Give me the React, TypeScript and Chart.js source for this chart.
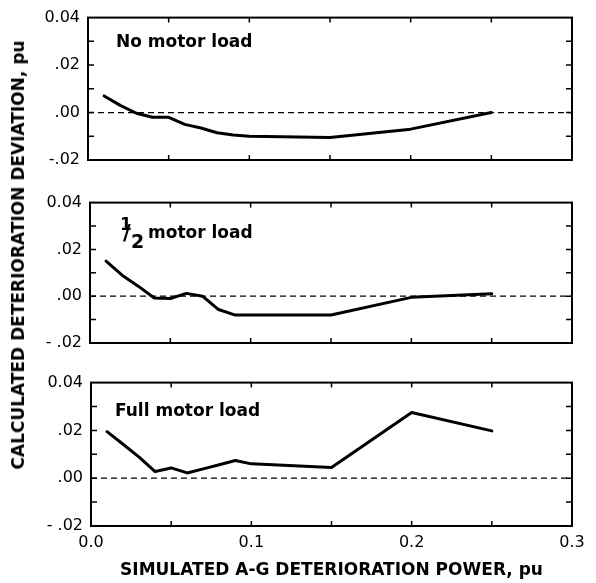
import React, { useEffect, useRef } from 'react';
import { Chart, registerables } from 'chart.js';

Chart.register(...registerables);

// ---------- data ----------
const xValues = [0.01, 0.02, 0.03, 0.04, 0.05, 0.06, 0.07, 0.08, 0.09, 0.1, 0.15, 0.2, 0.25];
const noMotorLoad = [0.007, 0.003, -0.0003, -0.002, -0.002, -0.005, -0.0065, -0.0085, -0.0095, -0.01, -0.0105, -0.007, 0.0];
const halfMotorLoad = [0.015, 0.009, 0.0043, -0.0008, -0.001, 0.0012, 0.0, -0.0057, -0.008, -0.008, -0.008, -0.0005, 0.001];
const fullMotorLoad = [0.0195, 0.0142, 0.0088, 0.0028, 0.0043, 0.0022, 0.0039, 0.0056, 0.0074, 0.006, 0.0045, 0.0275, 0.0198];
const zeroLineX = [0, 0.3];
const zeroLineY = [0, 0];

const xTickLabels = ['0.0', '0.1', '0.2', '0.3'];
const yTickLabelsTop = ['-.02', '.00', '.02', '0.04'];
const yTickLabelsLower = ['- .02', '.00', '.02', '0.04'];

const xAxisTitle = 'SIMULATED A-G DETERIORATION POWER, pu';
const yAxisTitle = 'CALCULATED DETERIORATION DEVIATION, pu';
const panelTexts = ['No motor load', 'motor load', 'Full motor load'];

const FONT = '"DejaVu Sans", "Liberation Sans", sans-serif';

type PanelSpec = {
  values: number[];
  text: string;
  fraction: boolean;
  yLabels: string[];
  canvasTop: number;
  canvasHeight: number;
  padTop: number;
  padBottom: number;
  yAxisWidth: number;
  showX: boolean;
  labelDx: number;
  labelDy: number;
};

const panels: PanelSpec[] = [
  { values: noMotorLoad, text: panelTexts[0], fraction: false, yLabels: yTickLabelsTop, canvasTop: 0, canvasHeight: 185, padTop: 14, padBottom: 25, yAxisWidth: 58, showX: false, labelDx: 28, labelDy: 29 },
  { values: halfMotorLoad, text: panelTexts[1], fraction: true, yLabels: yTickLabelsLower, canvasTop: 185, canvasHeight: 180, padTop: 13, padBottom: 22, yAxisWidth: 60, showX: false, labelDx: 58, labelDy: 35 },
  { values: fullMotorLoad, text: panelTexts[2], fraction: false, yLabels: yTickLabelsLower, canvasTop: 365, canvasHeight: 218, padTop: 17, padBottom: 0, yAxisWidth: 61, showX: true, labelDx: 24, labelDy: 33 },
];

const frameTicksPlugin = {
  id: 'frameTicks',
  afterDraw(chart: any) {
    const { ctx, chartArea } = chart;
    const { left, right, top, bottom } = chartArea;
    const xs = chart.scales.x;
    const ys = chart.scales.y;
    ctx.save();
    ctx.strokeStyle = '#000';
    ctx.lineWidth = 1.5;
    ctx.beginPath();
    xs.ticks.forEach((t: any) => {
      const px = xs.getPixelForValue(t.value);
      if (px <= left + 1 || px >= right - 1) return;
      ctx.moveTo(px, top);
      ctx.lineTo(px, top + 5);
      ctx.moveTo(px, bottom);
      ctx.lineTo(px, bottom - 5);
    });
    ys.ticks.forEach((t: any) => {
      const py = ys.getPixelForValue(t.value);
      if (py <= top + 1 || py >= bottom - 1) return;
      ctx.moveTo(left, py);
      ctx.lineTo(left + 6, py);
      ctx.moveTo(right, py);
      ctx.lineTo(right - 6, py);
    });
    ctx.stroke();
    ctx.lineWidth = 2;
    ctx.strokeRect(left, top, right - left, bottom - top);
    ctx.restore();
  },
};

const panelLabelPlugin = {
  id: 'panelLabel',
  afterDraw(chart: any, _args: any, opts: any) {
    const { ctx, chartArea } = chart;
    const x = chartArea.left + opts.dx;
    const y = chartArea.top + opts.dy;
    ctx.save();
    ctx.fillStyle = '#000';
    ctx.textBaseline = 'alphabetic';
    ctx.textAlign = 'left';
    if (opts.fraction) {
      ctx.font = `bold 17px ${FONT}`;
      ctx.fillText('1', x - 28, y - 8);
      ctx.font = `bold 21px ${FONT}`;
      ctx.fillText('/', x - 25, y + 2);
      ctx.font = `bold 19px ${FONT}`;
      ctx.fillText('2', x - 17, y + 10);
    }
    ctx.font = `bold 17px ${FONT}`;
    ctx.fillText(opts.text, x, y);
    ctx.restore();
  },
};

function Panel({ spec }: { spec: PanelSpec }) {
  const ref = useRef<HTMLCanvasElement | null>(null);
  useEffect(() => {
    if (!ref.current) return;
    const lineData = xValues.map((x, i) => ({ x, y: spec.values[i] }));
    const zeroData = zeroLineX.map((x, i) => ({ x, y: zeroLineY[i] }));
    const chart = new Chart(ref.current, {
      type: 'line',
      data: {
        datasets: [
          {
            data: zeroData,
            borderColor: '#000',
            borderWidth: 1.2,
            borderDash: [6, 4],
            pointRadius: 0,
            tension: 0,
          },
          {
            data: lineData,
            borderColor: '#000',
            borderWidth: 3,
            pointRadius: 0,
            tension: 0,
            borderJoinStyle: 'round',
            borderCapStyle: 'round',
          },
        ],
      },
      options: {
        animation: false,
        responsive: false,
        maintainAspectRatio: false,
        events: [],
        layout: { padding: { left: 30, right: 24, top: spec.padTop, bottom: spec.padBottom } },
        plugins: {
          legend: { display: false },
          tooltip: { enabled: false },
          panelLabel: { text: spec.text, fraction: spec.fraction, dx: spec.labelDx, dy: spec.labelDy },
        } as any,
        scales: {
          x: {
            type: 'linear',
            min: 0,
            max: 0.3,
            display: spec.showX,
            grid: { display: false, drawTicks: false },
            border: { display: false },
            ticks: {
              stepSize: 0.05,
              autoSkip: false,
              maxRotation: 0,
              padding: 7,
              color: '#000',
              font: { family: FONT, size: 16 },
              callback: (v: any) => {
                const i = Math.round(Number(v) * 20);
                if (i % 2 !== 0) return '';
                return xTickLabels[i / 2] ?? '';
              },
            },
            title: {
              display: spec.showX,
              text: xAxisTitle,
              color: '#000',
              font: { family: FONT, size: 17, weight: 'bold' },
              padding: { top: 0, bottom: 2 },
            },
            afterFit: (s: any) => {
              if (spec.showX) s.height = 57;
            },
          },
          y: {
            type: 'linear',
            min: -0.02,
            max: 0.04,
            grid: { display: false, drawTicks: false },
            border: { display: false },
            ticks: {
              stepSize: 0.01,
              autoSkip: false,
              padding: 8,
              color: '#000',
              font: { family: FONT, size: 16 },
              callback: (v: any) => {
                const i = Math.round(Number(v) * 100);
                if (i % 2 !== 0) return '';
                return spec.yLabels[(i + 2) / 2] ?? '';
              },
            },
            afterFit: (s: any) => {
              s.width = spec.yAxisWidth;
            },
          },
        },
      },
      plugins: [frameTicksPlugin, panelLabelPlugin],
    } as any);
    return () => chart.destroy();
  }, [spec]);
  return (
    <canvas
      ref={ref}
      width={596}
      height={spec.canvasHeight}
      style={{ position: 'absolute', left: 0, top: spec.canvasTop, width: 596, height: spec.canvasHeight }}
    />
  );
}

export default function App() {
  return (
    <div style={{ position: 'absolute', left: 0, top: 0, width: 596, height: 583, background: '#fff', overflow: 'hidden' }}>
      {panels.map((p, i) => (
        <Panel key={i} spec={p} />
      ))}
      <div
        style={{
          position: 'absolute',
          left: 18,
          top: 255,
          transform: 'translate(-50%, -50%) rotate(-90deg)',
          font: `bold 17px ${FONT}`,
          whiteSpace: 'nowrap',
          color: '#000',
          lineHeight: '20px',
        }}
      >
        {yAxisTitle}
      </div>
    </div>
  );
}
